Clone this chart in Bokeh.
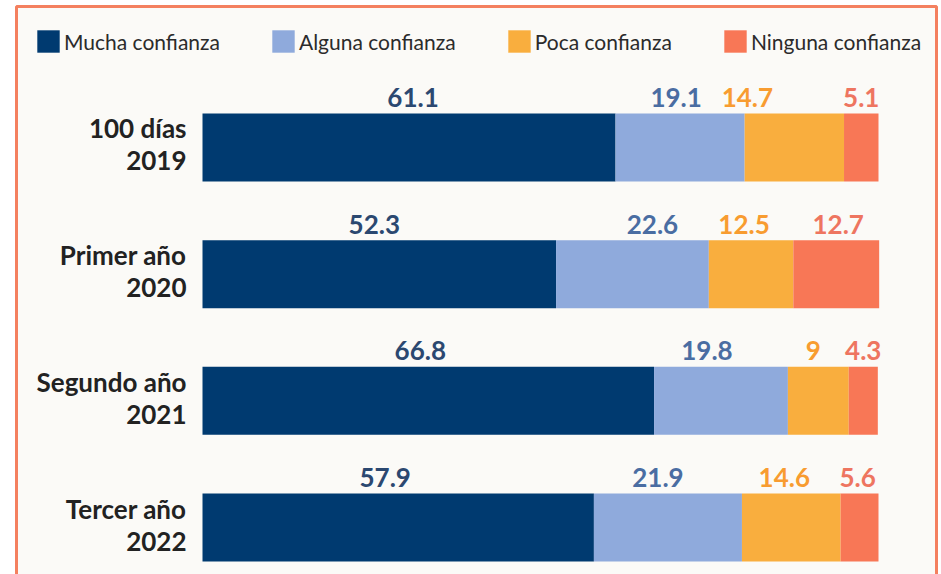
from bokeh.plotting import figure
from bokeh.models import ColumnDataSource, Range1d, BoxAnnotation
from bokeh.core.properties import value
from bokeh.embed import file_html
from bokeh.resources import INLINE

# ---- data ----
categories = ["100 días\n2019", "Primer año\n2020", "Segundo año\n2021", "Tercer año\n2022"]
series_names = ["Mucha confianza", "Alguna confianza", "Poca confianza", "Ninguna confianza"]
mucha = [61.1, 52.3, 66.8, 57.9]
alguna = [19.1, 22.6, 19.8, 21.9]
poca = [14.7, 12.5, 9.0, 14.6]
ninguna = [5.1, 12.7, 4.3, 5.6]

# ---- styles ----
bar_colors = ["#003A70", "#8FAADC", "#F9AE3E", "#F87756"]
label_colors = ["#2B4870", "#4A6DA2", "#F89C30", "#EE7560"]
# small horizontal pixel nudges for the value labels (per row, per series)
label_nudge = [[4, -4, -47, 0], [-5, 20, -7, 2], [-8, -14, -5, 0], [-13, -10, -7, -2]]
FONT = "Lato"

series = [mucha, alguna, poca, ninguna]
keys = ["mucha", "alguna", "poca", "ninguna"]
ypos = list(range(len(categories)))
bar_h = 0.537

src = ColumnDataSource(dict(y=ypos, cat=categories, mucha=mucha, alguna=alguna, poca=poca, ninguna=ninguna))

p = figure(width=941, height=574, output_backend="svg", toolbar_location=None,
           x_range=Range1d(-29.882, 109.32), y_range=Range1d(3.371, -1.1605),
           x_axis_type=None, y_axis_type=None,
           min_border_left=0, min_border_right=0, min_border_top=0, min_border_bottom=0)
p.background_fill_color = "white"
p.border_fill_color = "white"
p.outline_line_color = None
p.xgrid.visible = False
p.ygrid.visible = False

panel = BoxAnnotation(left=16, right=936, top=6, bottom=590,
                      left_units="canvas", right_units="canvas",
                      top_units="canvas", bottom_units="canvas",
                      fill_color="#FBFAF7", fill_alpha=1.0,
                      line_color="#F4805F", line_alpha=1.0, line_width=3, level="underlay")
p.add_layout(panel)

rs = p.hbar_stack(keys, y="y", height=bar_h, color=bar_colors, source=src,
                  legend_label=series_names, line_color=None)

# value labels centred on each segment, above the bar
lx, ly, lt, lc, lo = [], [], [], [], []
for i in ypos:
    cum = 0.0
    for s, vals in enumerate(series):
        v = vals[i]
        lx.append(cum + v / 2)
        ly.append(i - bar_h / 2)
        lt.append(f"{v:g}")
        lc.append(label_colors[s])
        lo.append(label_nudge[i][s])
        cum += v
lsrc = ColumnDataSource(dict(x=lx, y=ly, t=lt, c=lc, o=lo))
p.text(x="x", y="y", text="t", source=lsrc, text_color="c", x_offset="o", y_offset=-16,
       text_align="center", text_baseline="alphabetic",
       text_font=value(FONT), text_font_style="bold", text_font_size="26px")

# category labels
csrc = ColumnDataSource(dict(x=[0] * len(categories), y=ypos, t=categories))
p.text(x="x", y="y", text="t", source=csrc, x_offset=-16, y_offset=-3, text_align="right",
       text_baseline="middle", text_color="#222222", text_line_height=1.0,
       text_font=value(FONT), text_font_style="bold", text_font_size="26px")

lg = p.legend[0]
lg.orientation = "horizontal"
lg.location = (34, 519)
lg.margin = 0
lg.padding = 0
lg.spacing = 49
lg.glyph_width = 28
lg.glyph_height = 28
lg.label_standoff = 2
lg.label_text_font = FONT
lg.label_text_font_size = "21px"
lg.label_text_color = "#2B2B2B"
lg.label_text_baseline = "middle"
lg.background_fill_alpha = 0
lg.border_line_color = None

open("out.html", "w").write(file_html(p, INLINE))
